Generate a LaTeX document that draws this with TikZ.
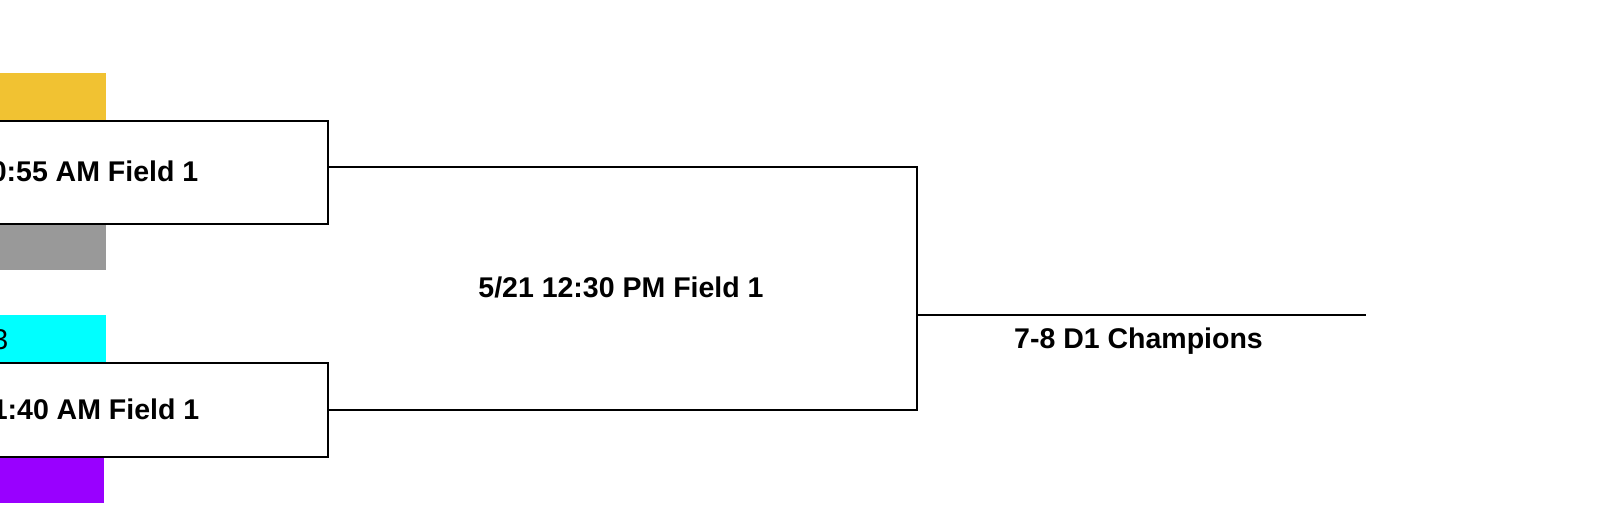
\documentclass[tikz,border=0pt]{standalone}
\usepackage{fontspec}
\setmainfont{Liberation Sans}
\definecolor{teamyellow}{HTML}{F1C232}
\definecolor{teamgray}{HTML}{999999}
\definecolor{teamcyan}{HTML}{00FFFF}
\definecolor{teampurple}{HTML}{9900FF}
\begin{document}
\begin{tikzpicture}[x=1pt,y=-1pt,
  teambar/.style={inner sep=0pt, anchor=north west, minimum width=106pt, minimum height=47pt, draw=none},
  gamebox/.style={draw=black, line width=2pt, fill=white, inner sep=0pt, anchor=north east, minimum width=580pt},
  gametext/.style={font=\fontsize{28.5}{34}\selectfont\bfseries, inner sep=0pt},
  teamtext/.style={font=\fontsize{28.5}{34}\selectfont, inner sep=0pt},
  bracket/.style={draw=black, line width=2pt}]
\useasboundingbox (0,0) rectangle (1600,505);
\clip (0,0) rectangle (1600,505);
\fill[white] (0,0) rectangle (1600,505);
% team bars
\node[teambar, fill=teamyellow] (ty) at (0,73.3) {};
\node[teambar, fill=teamgray] (tg) at (0,222.7) {};
\node[teambar, fill=teamcyan] (tc) at (0,314.5) {};
\node[teambar, fill=teampurple, minimum width=104pt] (tp) at (0,455.7) {};
\node[teamtext, anchor=east] (tctext) at (8.5,340) {3};
% game boxes
\node[gamebox, minimum height=102.6pt] (tbox) at (329,120.1) {};
\node[gamebox, minimum height=94pt] (bbox) at (329,361.7) {};
\node[gametext, anchor=east] (ttext) at (198.5,171.5) {0:55 AM Field 1};
\node[gametext, anchor=east] (btext) at (199.5,409.5) {1:40 AM Field 1};
% bracket
\coordinate (jn) at (917,315);
\coordinate (champ) at (1366,315);
\draw[bracket] ([yshift=5pt]tbox.east) -| (jn) |- (bbox.east);
\draw[bracket] (jn) -- (champ);
\node[gametext] (final) at (621,287.5) {5/21 12:30 PM Field 1};
\node[gametext] (chtext) at (1138.5,341) {7-8 D1 Champions};
\end{tikzpicture}
\end{document}
